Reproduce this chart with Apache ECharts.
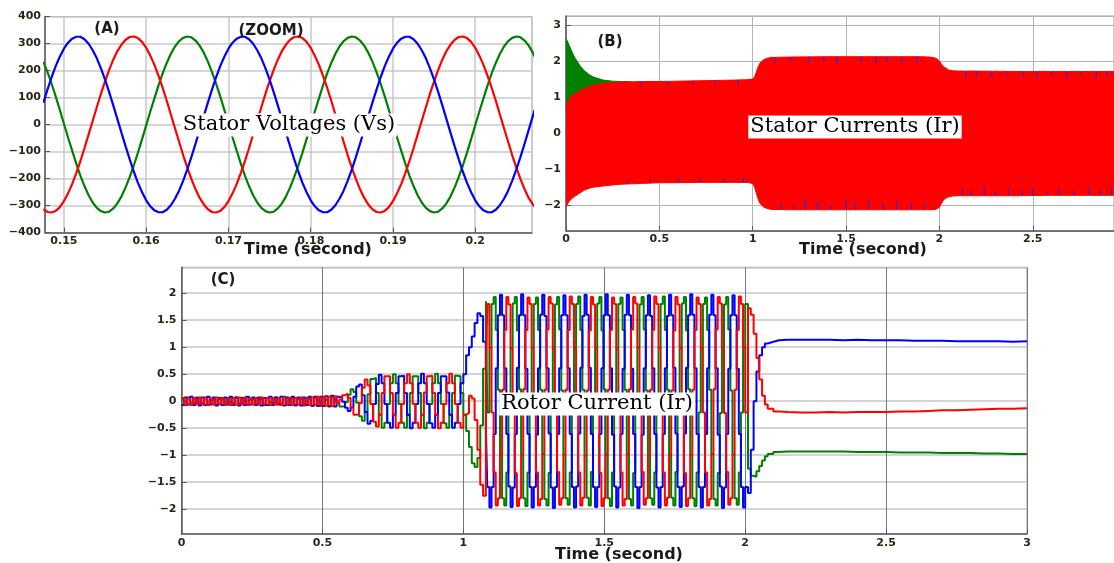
<!DOCTYPE html>
<html>
<head>
<meta charset="utf-8">
<script src="https://cdn.jsdelivr.net/npm/echarts@6/dist/echarts.min.js"></script>
<style>html,body{margin:0;padding:0;background:#fff}#c{width:1114px;height:563px}</style>
</head>
<body>
<div id="c"></div>
<script>
// ---------- Panel A : stator voltages (zoom) ----------
const timeA = [
0.1475,0.148,0.1485,0.149,0.1495,0.15,0.1505,0.151,0.1515,0.152,0.1525,0.153,0.1535,0.154,0.1545,0.155,0.1555,0.156,0.1565,0.157,
0.1575,0.158,0.1585,0.159,0.1595,0.16,0.1605,0.161,0.1615,0.162,0.1625,0.163,0.1635,0.164,0.1645,0.165,0.1655,0.166,0.1665,0.167,
0.1675,0.168,0.1685,0.169,0.1695,0.17,0.1705,0.171,0.1715,0.172,0.1725,0.173,0.1735,0.174,0.1745,0.175,0.1755,0.176,0.1765,0.177,
0.1775,0.178,0.1785,0.179,0.1795,0.18,0.1805,0.181,0.1815,0.182,0.1825,0.183,0.1835,0.184,0.1845,0.185,0.1855,0.186,0.1865,0.187,
0.1875,0.188,0.1885,0.189,0.1895,0.19,0.1905,0.191,0.1915,0.192,0.1925,0.193,0.1935,0.194,0.1945,0.195,0.1955,0.196,0.1965,0.197,
0.1975,0.198,0.1985,0.199,0.1995,0.2,0.2005,0.201,0.2015,0.202,0.2025,0.203,0.2035,0.204,0.2045,0.205,0.2055,0.206,0.2065,0.207,
0.2075];
const voltBlue = [
81,129,175,216,251,281,303,318,325,325,316,299,275,245,208,166,120,71,20,-31,
-81,-129,-175,-216,-251,-281,-303,-318,-325,-325,-316,-299,-275,-245,-208,-166,-120,-71,-20,31,
81,129,175,216,251,281,303,318,325,325,316,299,275,245,208,166,120,71,20,-31,
-81,-129,-175,-216,-251,-281,-303,-318,-325,-325,-316,-299,-275,-245,-208,-166,-120,-71,-20,31,
81,129,175,216,251,281,303,318,325,325,316,299,275,245,208,166,120,71,20,-31,
-81,-129,-175,-216,-251,-281,-303,-318,-325,-325,-316,-299,-275,-245,-208,-166,-120,-71,-20,31,
81];
const voltRed = [
-314,-324,-326,-320,-306,-284,-255,-221,-180,-136,-88,-37,14,64,114,160,202,240,272,296,
314,324,326,320,306,284,255,221,180,136,88,37,-14,-64,-114,-160,-202,-240,-272,-296,
-314,-324,-326,-320,-306,-284,-255,-221,-180,-136,-88,-37,14,64,114,160,202,240,272,296,
314,324,326,320,306,284,255,221,180,136,88,37,-14,-64,-114,-160,-202,-240,-272,-296,
-314,-324,-326,-320,-306,-284,-255,-221,-180,-136,-88,-37,14,64,114,160,202,240,272,296,
314,324,326,320,306,284,255,221,180,136,88,37,-14,-64,-114,-160,-202,-240,-272,-296,
-314];
const voltGreen = [
233,194,151,104,54,3,-48,-97,-145,-189,-228,-262,-289,-309,-321,-326,-323,-311,-292,-266,
-233,-194,-151,-104,-54,-3,48,97,145,189,228,262,289,309,321,326,323,311,292,266,
233,194,151,104,54,3,-48,-97,-145,-189,-228,-262,-289,-309,-321,-326,-323,-311,-292,-266,
-233,-194,-151,-104,-54,-3,48,97,145,189,228,262,289,309,321,326,323,311,292,266,
233,194,151,104,54,3,-48,-97,-145,-189,-228,-262,-289,-309,-321,-326,-323,-311,-292,-266,
-233,-194,-151,-104,-54,-3,48,97,145,189,228,262,289,309,321,326,323,311,292,266,
233];

// ---------- Panel B : stator currents (envelopes of the dense waveform) ----------
const timeB = [0,0.01,0.02,0.035,0.05,0.075,0.1,0.125,0.15,0.2,0.25,0.3,0.35,0.4,0.5,0.6,0.7,0.8,0.9,0.97,
1.0,1.01,1.02,1.03,1.04,1.06,1.08,1.1,1.2,1.4,1.6,1.8,1.9,1.95,1.98,2.0,2.01,2.02,2.03,2.05,2.07,2.1,
2.2,2.4,2.6,2.8,2.95];
const statorUpper = [0.75,0.88,0.97,1.05,1.1,1.18,1.24,1.29,1.33,1.38,1.4,1.42,1.42,1.43,1.43,1.44,1.45,1.46,1.47,1.48,
1.5,1.56,1.7,1.85,1.95,2.04,2.08,2.1,2.11,2.12,2.12,2.12,2.12,2.11,2.08,2.0,1.92,1.85,1.8,1.75,1.73,1.72,
1.72,1.71,1.71,1.71,1.71];
const statorLower = [-2.05,-1.95,-1.88,-1.8,-1.75,-1.66,-1.58,-1.53,-1.5,-1.47,-1.44,-1.42,-1.41,-1.4,-1.38,-1.38,-1.37,-1.37,-1.37,-1.37,
-1.4,-1.5,-1.68,-1.85,-1.96,-2.06,-2.1,-2.12,-2.13,-2.13,-2.13,-2.13,-2.13,-2.13,-2.12,-2.06,-1.96,-1.88,-1.82,-1.77,-1.75,-1.74,
-1.74,-1.74,-1.73,-1.73,-1.73];
const timeBGreen = [0,0.01,0.02,0.035,0.05,0.075,0.1,0.125,0.15,0.2,0.25,0.3,0.35];
const statorGreenUpper = [2.63,2.52,2.4,2.22,2.07,1.87,1.72,1.62,1.55,1.47,1.44,1.43,1.43];
// blue glitch spikes visible on the edges of the band
const spikeLowT    = [0.33,0.45,0.6,0.72,0.85,0.95,1.15,1.22,1.28,1.35,1.42,1.5,1.55,1.62,1.7,1.77,1.85,1.92,2.12,2.17,2.24,2.3,2.37,2.44,2.5,2.58,2.64,2.72,2.8,2.86,2.92];
const spikeLowBase = [-1.41,-1.39,-1.38,-1.37,-1.37,-1.37,-2.13,-2.13,-2.13,-2.13,-2.13,-2.13,-2.13,-2.13,-2.13,-2.13,-2.13,-2.13,-1.74,-1.74,-1.74,-1.74,-1.74,-1.74,-1.74,-1.73,-1.73,-1.73,-1.73,-1.73,-1.73];
const spikeLowTip  = [-1.3,-1.28,-1.25,-1.27,-1.26,-1.25,-1.95,-2.0,-1.85,-1.9,-2.0,-1.85,-1.95,-1.88,-1.97,-1.87,-1.93,-1.98,-1.55,-1.6,-1.5,-1.62,-1.55,-1.6,-1.52,-1.62,-1.55,-1.6,-1.5,-1.6,-1.55];
const spikeUpT     = [0.4,0.55,0.68,0.8,0.92,1.12,1.2,1.3,1.38,1.45,1.58,1.66,1.72,1.8,1.88,2.14,2.2,2.28,2.36,2.45,2.52,2.6,2.68,2.76,2.84,2.9];
const spikeUpBase  = [1.43,1.44,1.45,1.46,1.47,2.1,2.11,2.12,2.12,2.12,2.12,2.12,2.12,2.12,2.12,1.72,1.72,1.72,1.71,1.71,1.71,1.71,1.71,1.71,1.71,1.71];
const spikeUpTip   = [1.33,1.35,1.36,1.35,1.37,1.95,1.98,1.93,2.0,1.9,1.97,1.92,1.98,1.9,1.95,1.55,1.6,1.52,1.62,1.58,1.55,1.6,1.52,1.6,1.55,1.6];

// ---------- Panel C : rotor currents ----------
const timeC = [
0,0.01,0.02,0.03,0.04,0.05,0.06,0.07,0.08,0.09,
0.1,0.11,0.12,0.13,0.14,0.15,0.16,0.17,0.18,0.19,
0.2,0.21,0.22,0.23,0.24,0.25,0.26,0.27,0.28,0.29,
0.3,0.31,0.32,0.33,0.34,0.35,0.36,0.37,0.38,0.39,
0.4,0.41,0.42,0.43,0.44,0.45,0.46,0.47,0.48,0.49,
0.5,0.51,0.52,0.53,0.54,0.55,0.56,0.57,0.58,0.59,
0.6,0.61,0.62,0.63,0.64,0.65,0.66,0.67,0.68,0.69,
0.7,0.71,0.72,0.73,0.74,0.75,0.76,0.77,0.78,0.79,
0.8,0.81,0.82,0.83,0.84,0.85,0.86,0.87,0.88,0.89,
0.9,0.91,0.92,0.93,0.94,0.95,0.96,0.97,0.98,0.99,
1.0,
1.01,1.02,1.03,1.04,1.05,1.06,1.07,1.08,
1.085,1.0925,1.1,1.1075,1.115,1.1225,1.13,1.1375,1.145,1.1525,
1.16,1.1675,1.175,1.1825,1.19,1.1975,1.205,1.2125,1.22,1.2275,
1.235,1.2425,1.25,1.2575,1.265,1.2725,1.28,1.2875,1.295,1.3025,
1.31,1.3175,1.325,1.3325,1.34,1.3475,1.355,1.3625,1.37,1.3775,
1.385,1.3925,1.4,1.4075,1.415,1.4225,1.43,1.4375,1.445,1.4525,
1.46,1.4675,1.475,1.4825,1.49,1.4975,1.505,1.5125,1.52,1.5275,
1.535,1.5425,1.55,1.5575,1.565,1.5725,1.58,1.5875,1.595,1.6025,
1.61,1.6175,1.625,1.6325,1.64,1.6475,1.655,1.6625,1.67,1.6775,
1.685,1.6925,1.7,1.7075,1.715,1.7225,1.73,1.7375,1.745,1.7525,
1.76,1.7675,1.775,1.7825,1.79,1.7975,1.805,1.8125,1.82,1.8275,
1.835,1.8425,1.85,1.8575,1.865,1.8725,1.88,1.8875,1.895,1.9025,
1.91,1.9175,1.925,1.9325,1.94,1.9475,1.955,1.9625,1.97,1.9775,
1.985,1.9925,2.0,
2.01,2.02,2.03,2.04,2.05,2.06,2.07,2.08,2.1,2.12,2.15,
2.2,2.25,2.3,2.35,2.4,2.45,2.5,2.55,2.6,2.65,2.7,2.75,2.8,2.85,2.9,2.95,3.0];
const rotorBlue = [
-0.07,0.07,-0.06,0.08,-0.07,0.06,-0.08,0.07,-0.07,0.08,-0.06,
0.07,-0.08,0.06,-0.07,0.07,-0.06,0.08,-0.07,0.07,-0.08,0.06,
-0.07,0.08,-0.06,0.07,-0.07,0.07,-0.08,0.06,-0.07,0.08,-0.07,
0.07,-0.06,0.08,-0.08,0.07,-0.07,0.08,-0.07,0.07,-0.08,0.07,
-0.07,0.08,-0.08,0.08,-0.09,0.08,-0.09,0.09,-0.09,0.1,-0.1,
0.08,0.07,-0.01,-0.12,-0.18,-0.11,0.08,0.27,0.31,0.11,-0.2,-0.42,-0.36,-0.05,0.32,
0.49,0.33,-0.05,-0.4,-0.49,-0.25,0.15,0.46,0.47,0.15,-0.25,-0.5,-0.4,-0.05,0.33,
0.51,0.33,-0.05,-0.41,-0.49,-0.25,0.15,0.46,0.46,0.16,-0.25,-0.49,-0.4,-0.05,0.33,
0.5,
0.85,1.0,1.2,1.45,1.63,1.58,1.1,-0.5,
-1.59,-1.97,-1.59,-0.61,0.61,1.59,1.97,1.59,0.61,-0.61,
-1.58,-1.96,-1.6,-0.61,0.62,1.59,1.98,1.59,0.6,-0.61,
-1.59,-1.97,-1.59,-0.62,0.61,1.6,1.97,1.58,0.61,-0.6,
-1.6,-1.98,-1.59,-0.61,0.61,1.59,1.96,1.59,0.61,-0.61,
-1.59,-1.97,-1.58,-0.6,0.62,1.58,1.97,1.6,0.62,-0.61,
-1.59,-1.96,-1.59,-0.61,0.61,1.59,1.98,1.59,0.61,-0.62,
-1.58,-1.97,-1.6,-0.61,0.6,1.6,1.97,1.59,0.6,-0.61,
-1.59,-1.98,-1.59,-0.62,0.61,1.59,1.96,1.58,0.61,-0.61,
-1.6,-1.97,-1.59,-0.61,0.61,1.58,1.97,1.59,0.62,-0.6,
-1.59,-1.96,-1.58,-0.6,0.62,1.59,1.98,1.6,0.61,-0.61,
-1.59,-1.97,-1.59,-0.61,0.61,1.6,1.97,1.59,0.61,-0.62,
-1.58,-1.98,-1.6,-0.61,0.6,1.59,1.96,1.59,0.6,-0.61,
-1.59,-1.97,-1.59,
-1.7,-0.9,0.0,0.55,0.85,1.0,1.07,1.1,1.13,1.14,1.14,
1.14,1.14,1.13,1.14,1.13,1.13,1.13,1.12,1.12,1.12,1.11,1.11,1.11,1.11,1.1,1.11,1.1];
const rotorRed = [
0.06,-0.06,0.05,-0.07,0.06,-0.05,0.07,-0.06,0.06,-0.07,0.05,
-0.06,0.07,-0.05,0.06,-0.06,0.05,-0.07,0.06,-0.06,0.07,-0.05,
0.06,-0.07,0.05,-0.06,0.06,-0.06,0.07,-0.05,0.06,-0.07,0.06,
-0.06,0.05,-0.07,0.07,-0.06,0.06,-0.07,0.06,-0.06,0.07,-0.06,
0.06,-0.07,0.07,-0.07,0.08,-0.07,0.08,-0.08,0.08,-0.09,0.09,
-0.04,0.03,0.11,0.14,0.06,-0.11,-0.25,-0.24,-0.04,0.25,0.4,0.29,-0.05,-0.38,-0.47,
-0.25,0.15,0.46,0.46,0.15,-0.25,-0.49,-0.4,-0.05,0.33,0.5,0.33,-0.05,-0.4,-0.49,
-0.25,0.16,0.46,0.47,0.15,-0.25,-0.5,-0.4,-0.05,0.33,0.51,0.33,-0.05,-0.4,-0.49,
-0.25,
-0.22,0.1,0.05,-0.35,-0.9,-1.55,-1.75,0.5,
1.8,0.99,-0.21,-1.32,-1.93,-1.8,-0.99,0.21,1.32,1.93,
1.79,0.98,-0.2,-1.33,-1.94,-1.8,-0.99,0.22,1.32,1.92,
1.8,0.99,-0.21,-1.32,-1.93,-1.81,-0.98,0.21,1.33,1.93,
1.81,0.99,-0.22,-1.31,-1.92,-1.8,-0.99,0.21,1.32,1.94,
1.8,1.0,-0.21,-1.32,-1.93,-1.79,-1.0,0.2,1.31,1.93,
1.79,0.99,-0.2,-1.33,-1.94,-1.8,-0.99,0.21,1.32,1.92,
1.8,0.98,-0.21,-1.32,-1.93,-1.81,-0.98,0.22,1.33,1.93,
1.81,0.99,-0.22,-1.31,-1.92,-1.8,-0.99,0.21,1.32,1.94,
1.8,0.99,-0.21,-1.32,-1.93,-1.79,-1.0,0.2,1.31,1.93,
1.79,1.0,-0.2,-1.33,-1.94,-1.8,-0.99,0.21,1.32,1.92,
1.8,0.99,-0.21,-1.32,-1.93,-1.81,-0.98,0.22,1.33,1.93,
1.81,0.98,-0.22,-1.31,-1.92,-1.8,-0.99,0.21,1.32,1.94,
1.8,0.99,-0.21,
1.72,1.6,1.25,0.8,0.4,0.1,-0.06,-0.14,-0.19,-0.2,-0.21,
-0.21,-0.2,-0.21,-0.2,-0.2,-0.2,-0.19,-0.19,-0.18,-0.17,-0.17,-0.16,-0.15,-0.14,-0.14,-0.13,-0.12];
const rotorGreen = [
0.03,-0.07,0.07,-0.03,-0.05,0.07,-0.04,-0.03,0.07,-0.06,0.02,
0.05,-0.07,0.04,0.03,-0.07,0.06,-0.02,-0.05,0.07,-0.04,-0.03,
0.07,-0.06,0.02,0.05,-0.07,0.04,0.03,-0.07,0.06,-0.02,-0.05,
0.07,-0.04,-0.04,0.08,-0.07,0.03,0.07,-0.08,0.04,0.05,-0.08,
0.06,0.03,-0.09,0.07,0.02,-0.09,0.08,0.02,-0.1,0.08,0.03,
-0.04,-0.1,-0.1,-0.02,0.12,0.22,0.17,-0.03,-0.28,-0.36,-0.2,0.13,0.41,0.43,0.15,
-0.25,-0.49,-0.4,-0.05,0.33,0.5,0.33,-0.05,-0.4,-0.49,-0.25,0.15,0.46,0.46,0.15,
-0.25,-0.5,-0.4,-0.05,0.33,0.51,0.33,-0.05,-0.41,-0.49,-0.25,0.15,0.47,0.46,0.15,
-0.25,
-0.55,-0.85,-1.15,-1.22,-1.05,-0.45,0.6,1.85,
-0.21,0.99,1.8,1.93,1.32,0.21,-0.99,-1.8,-1.93,-1.32,
-0.2,0.98,1.81,1.93,1.31,0.22,-0.99,-1.8,-1.94,-1.32,
-0.21,0.99,1.8,1.92,1.32,0.21,-0.98,-1.81,-1.93,-1.33,
-0.22,1.0,1.79,1.93,1.33,0.2,-0.99,-1.8,-1.92,-1.32,
-0.21,0.99,1.8,1.94,1.32,0.21,-1.0,-1.79,-1.93,-1.31,
-0.2,0.98,1.81,1.93,1.31,0.22,-0.99,-1.8,-1.94,-1.32,
-0.21,0.99,1.8,1.92,1.32,0.21,-0.98,-1.81,-1.93,-1.33,
-0.22,1.0,1.79,1.93,1.33,0.2,-0.99,-1.8,-1.92,-1.32,
-0.21,0.99,1.8,1.94,1.32,0.21,-1.0,-1.79,-1.93,-1.31,
-0.2,0.98,1.81,1.93,1.31,0.22,-0.99,-1.8,-1.94,-1.32,
-0.21,0.99,1.8,1.92,1.32,0.21,-0.98,-1.81,-1.93,-1.33,
-0.22,1.0,1.79,1.93,1.33,0.2,-0.99,-1.8,-1.92,-1.32,
-0.21,0.99,1.8,
-1.25,-1.38,-1.4,-1.3,-1.2,-1.1,-1.02,-0.98,-0.94,-0.93,-0.93,
-0.93,-0.93,-0.93,-0.94,-0.94,-0.94,-0.95,-0.95,-0.95,-0.96,-0.96,-0.96,-0.97,-0.97,-0.98,-0.98,-0.98];

// ---------- helpers ----------
const pairs = (ts, vs) => ts.map((t, i) => [t, vs[i]]);
function spikePairs(ts, base, tip) {
  const out = [];
  ts.forEach((t, i) => { out.push([t, base[i]], [t, tip[i]], [t, '-']); });
  return out;
}
const minusFmt = v => String(v).replace('-', '\u2212');
const BLUE = '#0000ff', RED = '#ff0000', GREEN = '#008000';
const labelStyle = (margin) => ({
  color: '#2b2418', fontFamily: 'DejaVu Sans', fontSize: 11, fontWeight: 'bold',
  margin: margin, formatter: minusFmt, showMinLabel: false, showMaxLabel: false
});
const axisBase = {
  type: 'value',
  axisLine: { show: true, onZero: false, lineStyle: { color: '#5a5a5a', width: 1.5 } },
  axisTick: { show: true, inside: true, length: 5, lineStyle: { color: '#5a5a5a' } }
};
function ax(extra) { return Object.assign({}, axisBase, extra); }

const chart = echarts.init(document.getElementById('c'), null, { renderer: 'canvas' });
function txt(x, y, text, font, box) {
  const st = { text: text, font: font, fill: '#1a1a1a', align: 'center', verticalAlign: 'middle' };
  if (box) { st.backgroundColor = '#ffffff'; st.padding = [1, 2]; st.fill = '#000'; }
  return { type: 'text', x: x, y: y, z: 100, silent: true, style: st };
}

const option = {
  animation: false,
  backgroundColor: '#ffffff',
  grid: [
    { left: 45, top: 16.5, width: 487, height: 216, show: true, borderColor: '#a0a0a0', borderWidth: 1 },
    { left: 566, top: 16, width: 548, height: 215, show: true, borderColor: '#a0a0a0', borderWidth: 1 },
    { left: 181.5, top: 267.3, width: 845.5, height: 266.7, show: true, borderColor: '#a0a0a0', borderWidth: 1 }
  ],
  xAxis: [
    ax({ gridIndex: 0, min: 0.1477, max: 0.2069, minInterval: 0.01, maxInterval: 0.01,
      axisLabel: labelStyle(3),
      splitLine: { show: true, lineStyle: { color: '#c9c9c9', width: 1.5 } } }),
    ax({ gridIndex: 1, min: 0, max: 2.935, interval: 0.5,
      axisLabel: Object.assign(labelStyle(3), { showMinLabel: true }),
      splitLine: { show: true, lineStyle: { color: '#b4b4b4', width: 1 } } }),
    ax({ gridIndex: 2, min: 0, max: 3, interval: 0.5,
      axisLabel: Object.assign(labelStyle(4), { showMinLabel: true, showMaxLabel: true }),
      splitLine: { show: true, lineStyle: { color: '#777777', width: 1 } } })
  ],
  yAxis: [
    ax({ gridIndex: 0, min: -400, max: 400, interval: 100,
      axisLabel: Object.assign(labelStyle(4), { showMinLabel: true, showMaxLabel: true }),
      splitLine: { show: true, lineStyle: { color: '#c9c9c9', width: 1.5 } } }),
    ax({ gridIndex: 1, min: -2.72, max: 3.25, minInterval: 1, maxInterval: 1,
      axisLabel: labelStyle(5),
      splitLine: { show: true, lineStyle: { color: '#b4b4b4', width: 1 } } }),
    ax({ gridIndex: 2, min: -2.46, max: 2.48, minInterval: 0.5, maxInterval: 0.5,
      axisLabel: labelStyle(5),
      splitLine: { show: true, lineStyle: { color: '#c6c6c6', width: 1.5 } } })
  ],
  series: [
    // Panel A
    { type: 'line', xAxisIndex: 0, yAxisIndex: 0, data: pairs(timeA, voltGreen), showSymbol: false,
      lineStyle: { color: GREEN, width: 2.2 }, itemStyle: { color: GREEN } },
    { type: 'line', xAxisIndex: 0, yAxisIndex: 0, data: pairs(timeA, voltRed), showSymbol: false,
      lineStyle: { color: RED, width: 2.2 }, itemStyle: { color: RED } },
    { type: 'line', xAxisIndex: 0, yAxisIndex: 0, data: pairs(timeA, voltBlue), showSymbol: false,
      lineStyle: { color: BLUE, width: 2.2 }, itemStyle: { color: BLUE } },
    // Panel B
    { type: 'line', xAxisIndex: 1, yAxisIndex: 1, data: pairs(timeBGreen, statorGreenUpper), showSymbol: false,
      lineStyle: { color: GREEN, width: 1 }, areaStyle: { color: GREEN, opacity: 1 }, itemStyle: { color: GREEN } },
    { type: 'line', xAxisIndex: 1, yAxisIndex: 1, data: pairs(timeB, statorUpper), showSymbol: false,
      lineStyle: { color: RED, width: 1 }, areaStyle: { color: RED, opacity: 1 }, itemStyle: { color: RED } },
    { type: 'line', xAxisIndex: 1, yAxisIndex: 1, data: pairs(timeB, statorLower), showSymbol: false,
      lineStyle: { color: RED, width: 1 }, areaStyle: { color: RED, opacity: 1 }, itemStyle: { color: RED } },
    { type: 'line', xAxisIndex: 1, yAxisIndex: 1, data: spikePairs(spikeLowT, spikeLowBase, spikeLowTip), showSymbol: false,
      connectNulls: false, lineStyle: { color: '#2030e0', width: 1.2 }, itemStyle: { color: BLUE } },
    { type: 'line', xAxisIndex: 1, yAxisIndex: 1, data: spikePairs(spikeUpT, spikeUpBase, spikeUpTip), showSymbol: false,
      connectNulls: false, lineStyle: { color: '#2030e0', width: 1.2 }, itemStyle: { color: BLUE } },
    // Panel C
    { type: 'line', xAxisIndex: 2, yAxisIndex: 2, data: pairs(timeC, rotorGreen), step: 'end', showSymbol: false,
      lineStyle: { color: GREEN, width: 2 }, itemStyle: { color: GREEN } },
    { type: 'line', xAxisIndex: 2, yAxisIndex: 2, data: pairs(timeC, rotorBlue), step: 'end', showSymbol: false,
      lineStyle: { color: BLUE, width: 2 }, itemStyle: { color: BLUE } },
    { type: 'line', xAxisIndex: 2, yAxisIndex: 2, data: pairs(timeC, rotorRed), step: 'end', showSymbol: false,
      lineStyle: { color: RED, width: 2 }, itemStyle: { color: RED } }
  ],
  graphic: [
    txt(107, 29, '(A)', 'bold 15px "DejaVu Sans"'),
    txt(271, 31, '(ZOOM)', 'bold 15px "DejaVu Sans"'),
    txt(289, 125, 'Stator Voltages (Vs)', '21px "DejaVu Serif"', true),
    txt(610, 42, '(B)', 'bold 15px "DejaVu Sans"'),
    txt(855, 127, 'Stator Currents (Ir)', '21px "DejaVu Serif"', true),
    txt(223, 280, '(C)', 'bold 15px "DejaVu Sans"'),
    txt(597, 404, 'Rotor Current (Ir)', '21px "DejaVu Serif"', true),
    txt(308, 250, 'Time (second)', 'bold 16px "DejaVu Sans"'),
    txt(863, 250, 'Time (second)', 'bold 16px "DejaVu Sans"'),
    txt(619, 555, 'Time (second)', 'bold 16px "DejaVu Sans"')
  ]
};
if (timeC.length !== rotorBlue.length || timeC.length !== rotorRed.length || timeC.length !== rotorGreen.length ||
    timeA.length !== voltBlue.length || timeA.length !== voltRed.length || timeA.length !== voltGreen.length) {
  console.error('length mismatch', timeC.length, rotorBlue.length, rotorRed.length, rotorGreen.length, timeA.length, voltBlue.length);
}
chart.setOption(option);
</script>
</body>
</html>
